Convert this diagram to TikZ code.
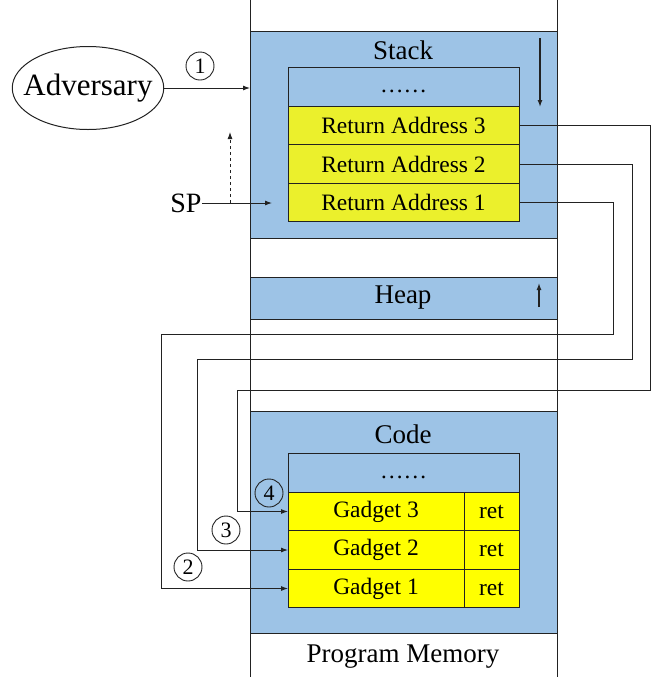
\documentclass[tikz,border=0pt]{standalone}
\usepackage{fontspec}
\setmainfont{Liberation Serif}
\usetikzlibrary{arrows.meta,positioning,shapes.geometric}
\definecolor{memblue}{HTML}{9DC3E6}
\definecolor{rayellow}{HTML}{EBF02C}
\definecolor{gadyellow}{HTML}{FFFF00}
\definecolor{memline}{HTML}{222222}
\tikzset{
  region/.style={draw=memline, fill=memblue, line width=1pt, minimum width=307pt, inner sep=0pt, outer sep=0pt},
  cell/.style={draw=memline, line width=1pt, minimum height=38.5pt, inner sep=0pt, outer sep=0pt, font=\fontsize{23.5}{27}\selectfont},
  racell/.style={cell, fill=rayellow, minimum width=231pt},
  gadcell/.style={cell, fill=gadyellow, minimum width=176pt},
  retcell/.style={cell, fill=gadyellow, minimum width=55pt},
  dotcell/.style={cell, fill=memblue, minimum width=231pt},
  biglabel/.style={font=\fontsize{27}{30}\selectfont, inner sep=0pt},
  step num/.style={circle, draw=memline, line width=0.9pt, minimum size=28pt, inner sep=0pt, font=\fontsize{22}{24}\selectfont},
  link/.style={draw=memline, line width=0.9pt, -{Latex[length=7pt,width=5pt]}},
}
\begin{document}
\begin{tikzpicture}[x=1pt, y=-1pt]
\useasboundingbox (0,0) rectangle (665,689);
% memory regions
\node[region, minimum height=207pt] (stack) at (403.5,134.5) {};
\node[region, minimum height=42pt] (heap) at (403.5,298) {};
\node[region, minimum height=222pt] (code) at (403.5,522) {};
\draw[memline, line width=1pt] (250,0) -- (250,677) (557,0) -- (557,677);
\node[biglabel] (stacklbl) at (403,50) {Stack};
\node[biglabel] (heaplbl) at (403,298) {Heap};
\node[biglabel] (codelbl) at (403,434) {Code};
\node[biglabel] (memlbl) at (403,657) {Program Memory};
% stack frames
\node[dotcell] (sdots) at (403.5,87) {\strut ……};
\node[racell, below=0pt of sdots] (ra3) {Return Address 3};
\node[racell, below=0pt of ra3] (ra2) {Return Address 2};
\node[racell, below=0pt of ra2] (ra1) {Return Address 1};
% code gadgets
\node[dotcell] (cdots) at (403.5,473) {\strut ……};
\node[gadcell, anchor=north west] (g3) at (cdots.south west) {Gadget 3};
\node[retcell, right=0pt of g3] (r3) {ret};
\node[gadcell, below=0pt of g3] (g2) {Gadget 2};
\node[retcell, right=0pt of g2] (r2) {ret};
\node[gadcell, below=0pt of g2] (g1) {Gadget 1};
\node[retcell, right=0pt of g1] (r1) {ret};
% growth directions
\coordinate (sgrowA) at (540,38);
\coordinate (sgrowB) at (540,107);
\coordinate (hgrowA) at (539,307);
\coordinate (hgrowB) at (539,283);
\draw[link, line width=1.3pt] (sgrowA) -- (sgrowB);
\draw[link, line width=1.3pt] (hgrowA) -- (hgrowB);
% adversary and stack pointer
\node[ellipse, draw=memline, line width=1pt, minimum width=150pt, minimum height=83pt, inner xsep=-11pt, inner ysep=0pt, font=\fontsize{31}{34}\selectfont] (adv) at (88,88) {Adversary};
\draw[link] (adv.east) -- (adv.east -| stack.west);
\node[step num] (n1) at (200,66) {1};
\node[biglabel, font=\fontsize{28}{30}\selectfont] (sp) at (186,203) {SP};
\coordinate (sptip) at (272,203);
\coordinate (spfork) at (230,203);
\coordinate (spup) at (230,132);
\draw[link] (sp.east) -- (sptip);
\draw[link, dashed] (spfork) -- (spup);
% return paths
\draw[link] (ra3.east) -| (650,390) -- (237,390) |- (g3.west);
\draw[link] (ra2.east) -| (632,359) -- (197,359) |- (g2.west);
\draw[link] (ra1.east) -| (613,334) -- (161,334) |- (g1.west);
\node[step num, fill=memblue] (n4) at (269,493) {4};
\node[step num] (n3) at (226,530) {3};
\node[step num] (n2) at (188,567) {2};
\end{tikzpicture}
\end{document}
